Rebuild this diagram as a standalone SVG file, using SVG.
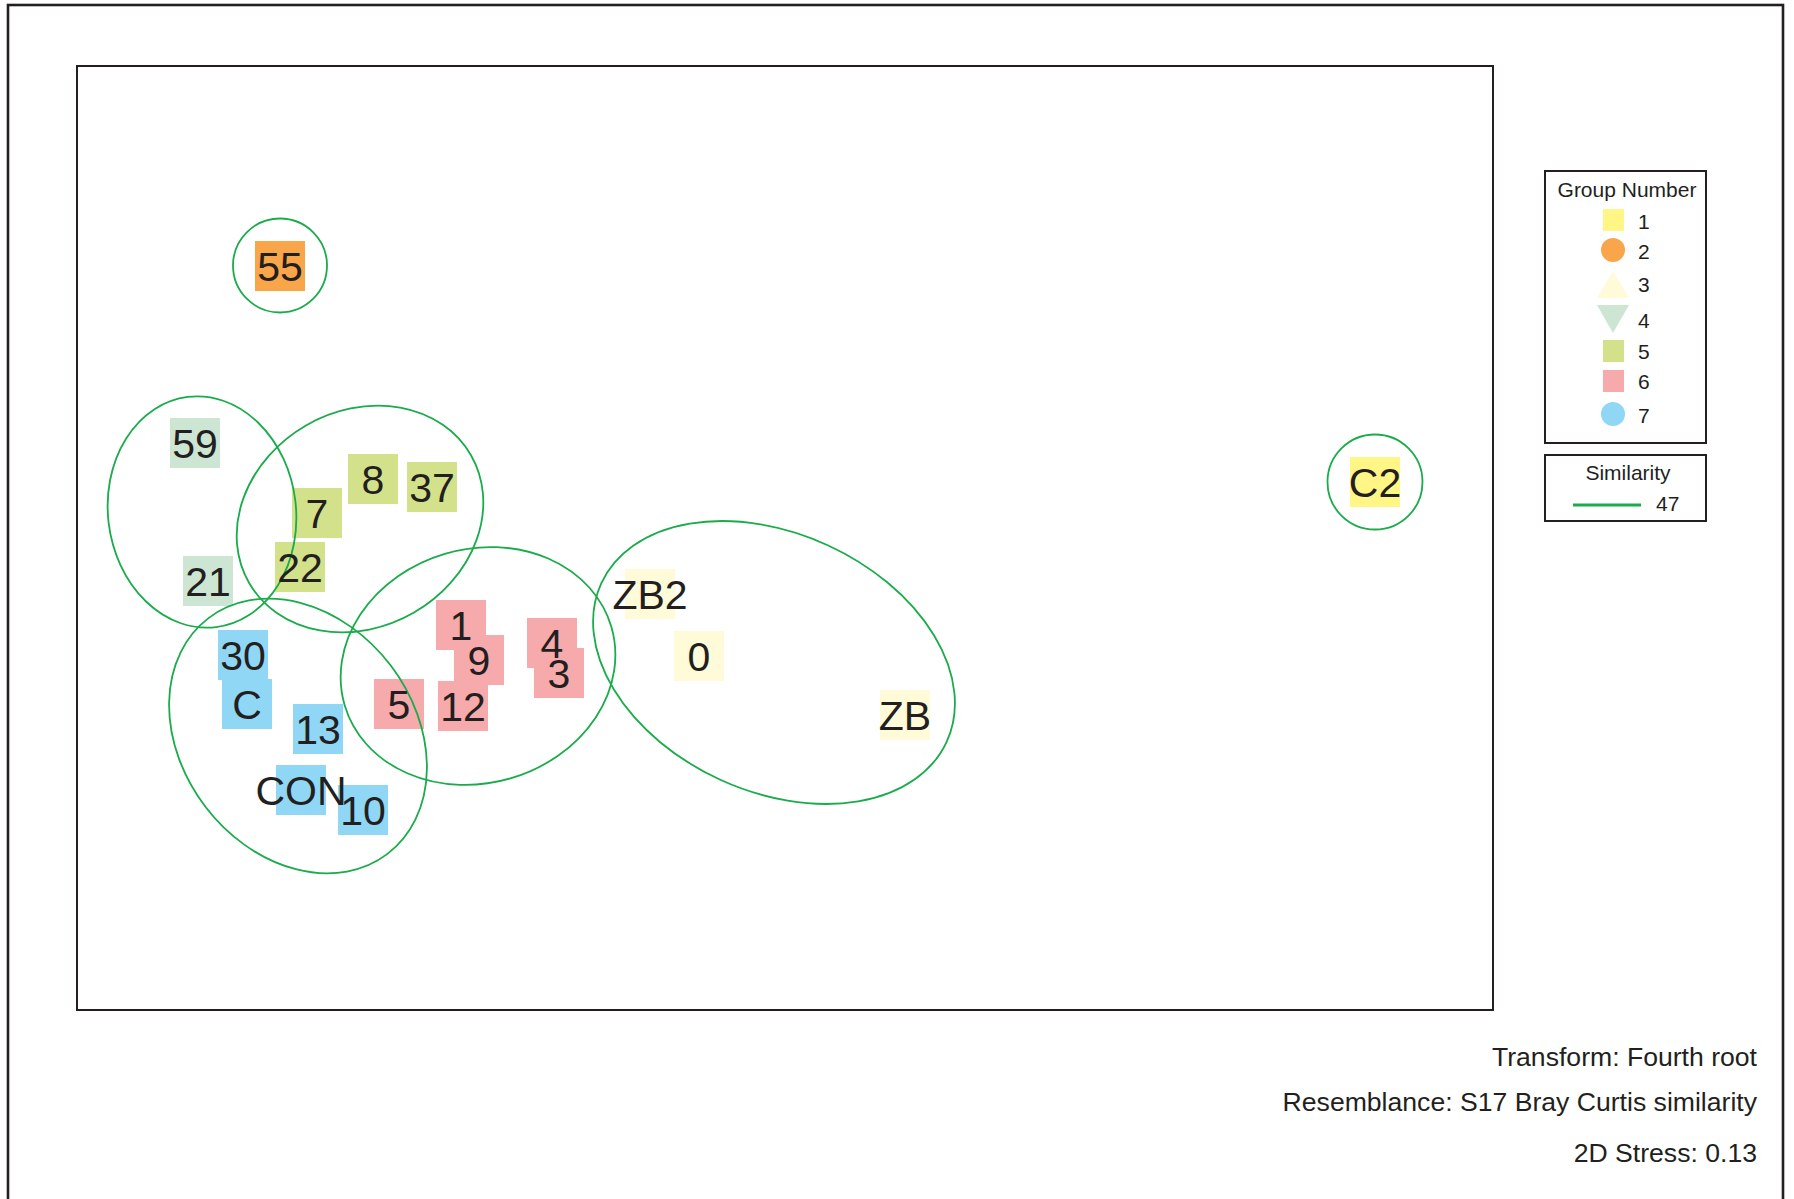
<svg xmlns="http://www.w3.org/2000/svg" width="1794" height="1199" viewBox="0 0 1794 1199">
<style>
.frame{fill:none;stroke:#231f20}
.ell{fill:none;stroke:#1aab4b;stroke-width:1.8}
.lbl{font-family:"Liberation Sans",Arial,sans-serif;font-size:41px;fill:#231f20;text-anchor:middle}
.leg{font-family:"Liberation Sans",Arial,sans-serif;font-size:21px;fill:#231f20}
.foot{font-family:"Liberation Sans",Arial,sans-serif;font-size:26.6px;fill:#231f20;text-anchor:end}
.g1{fill:#fff685}.g2{fill:#f9a54a}.g3{fill:#fffbd8}.g4{fill:#cde6d4}.g5{fill:#d3e28a}.g6{fill:#f6aaab}.g7{fill:#8fd7f5}
</style>
<rect x="0" y="0" width="1794" height="1199" fill="#ffffff"/>
<rect class="frame" x="8" y="5" width="1775" height="1210" stroke-width="2.6"/>
<rect class="frame" x="77" y="66" width="1416" height="944" stroke-width="2"/>

<g id="markers">
<rect class="g2" x="255" y="241" width="50" height="50"/>
<rect class="g4" x="170" y="418" width="50" height="50"/>
<rect class="g4" x="183" y="556" width="50" height="50"/>
<rect class="g5" x="292" y="488" width="50" height="50"/>
<rect class="g5" x="348" y="454" width="50" height="50"/>
<rect class="g5" x="407" y="462" width="50" height="50"/>
<rect class="g5" x="275" y="542" width="50" height="50"/>
<rect class="g6" x="436" y="600" width="50" height="50"/>
<rect class="g6" x="454" y="635" width="50" height="50"/>
<rect class="g6" x="527" y="618" width="50" height="50"/>
<rect class="g6" x="534" y="648" width="50" height="50"/>
<rect class="g6" x="374" y="679" width="50" height="50"/>
<rect class="g6" x="438" y="681" width="50" height="50"/>
<rect class="g7" x="218" y="630" width="50" height="50"/>
<rect class="g7" x="222" y="679" width="50" height="50"/>
<rect class="g7" x="293" y="704" width="50" height="50"/>
<rect class="g7" x="276" y="765" width="50" height="50"/>
<rect class="g7" x="338" y="785" width="50" height="50"/>
<rect class="g3" x="625" y="569" width="50" height="50"/>
<rect class="g3" x="674" y="631" width="50" height="50"/>
<rect class="g3" x="880" y="690" width="50" height="50"/>
<rect class="g1" x="1350" y="457" width="50" height="50"/>
</g>

<g id="clusters">
<circle class="ell" cx="280" cy="265.5" r="47"/>
<circle class="ell" cx="1375" cy="482" r="47.5"/>
<ellipse class="ell" cx="202" cy="512" rx="94" ry="116" transform="rotate(-7 202 512)"/>
<ellipse class="ell" cx="360" cy="519" rx="128" ry="108" transform="rotate(-30 360 519)"/>
<ellipse class="ell" cx="298" cy="736" rx="148" ry="116.5" transform="rotate(52.8 298 736)"/>
<ellipse class="ell" cx="478" cy="666" rx="139" ry="117" transform="rotate(-16.5 478 666)"/>
<ellipse class="ell" cx="774" cy="662.5" rx="190" ry="129" transform="rotate(24.6 774 662.5)"/>
</g>

<g id="labels">
<text class="lbl" x="280" y="280.5">55</text>
<text class="lbl" x="195" y="457.5">59</text>
<text class="lbl" x="208" y="595.5">21</text>
<text class="lbl" x="317" y="527.5">7</text>
<text class="lbl" x="373" y="493.5">8</text>
<text class="lbl" x="432" y="501.5">37</text>
<text class="lbl" x="300" y="581.5">22</text>
<text class="lbl" x="461" y="639.5">1</text>
<text class="lbl" x="479" y="674.5">9</text>
<text class="lbl" x="552" y="657.5">4</text>
<text class="lbl" x="559" y="687.5">3</text>
<text class="lbl" x="399" y="718.5">5</text>
<text class="lbl" x="463" y="720.5">12</text>
<text class="lbl" x="243" y="669.5">30</text>
<text class="lbl" x="247" y="718.5">C</text>
<text class="lbl" x="318" y="743.5">13</text>
<text class="lbl" x="301" y="804.5">CON</text>
<text class="lbl" x="363" y="824.5">10</text>
<text class="lbl" x="650" y="608.5">ZB2</text>
<text class="lbl" x="699" y="670.5">0</text>
<text class="lbl" x="905" y="729.5">ZB</text>
<text class="lbl" x="1375" y="496.5">C2</text>
</g>

<g id="legend-group">
<rect class="frame" x="1545" y="171" width="161" height="272" stroke-width="2"/>
<text class="leg" x="1627" y="197" text-anchor="middle">Group Number</text>
<rect class="g1" x="1603" y="209" width="21" height="22"/>
<text class="leg" x="1638" y="229">1</text>
<circle class="g2" cx="1613" cy="250" r="12"/>
<text class="leg" x="1638" y="259">2</text>
<polygon class="g3" points="1613,271 1629,298 1597,298"/>
<text class="leg" x="1638" y="292">3</text>
<polygon class="g4" points="1597,305 1629,305 1613,333"/>
<text class="leg" x="1638" y="328">4</text>
<rect class="g5" x="1603" y="340" width="21" height="22"/>
<text class="leg" x="1638" y="359">5</text>
<rect class="g6" x="1603" y="370" width="21" height="22"/>
<text class="leg" x="1638" y="389">6</text>
<circle class="g7" cx="1613" cy="414" r="12"/>
<text class="leg" x="1638" y="423">7</text>
</g>

<g id="legend-similarity">
<rect class="frame" x="1545" y="455" width="161" height="66" stroke-width="2"/>
<text class="leg" x="1628" y="480" text-anchor="middle">Similarity</text>
<line x1="1573" y1="505" x2="1641" y2="505" stroke="#1aab4b" stroke-width="3"/>
<text class="leg" x="1656" y="511">47</text>
</g>

<g id="notes">
<text class="foot" x="1757" y="1066">Transform: Fourth root</text>
<text class="foot" x="1757" y="1111">Resemblance: S17 Bray Curtis similarity</text>
<text class="foot" x="1757" y="1162">2D Stress: 0.13</text>
</g>
</svg>
